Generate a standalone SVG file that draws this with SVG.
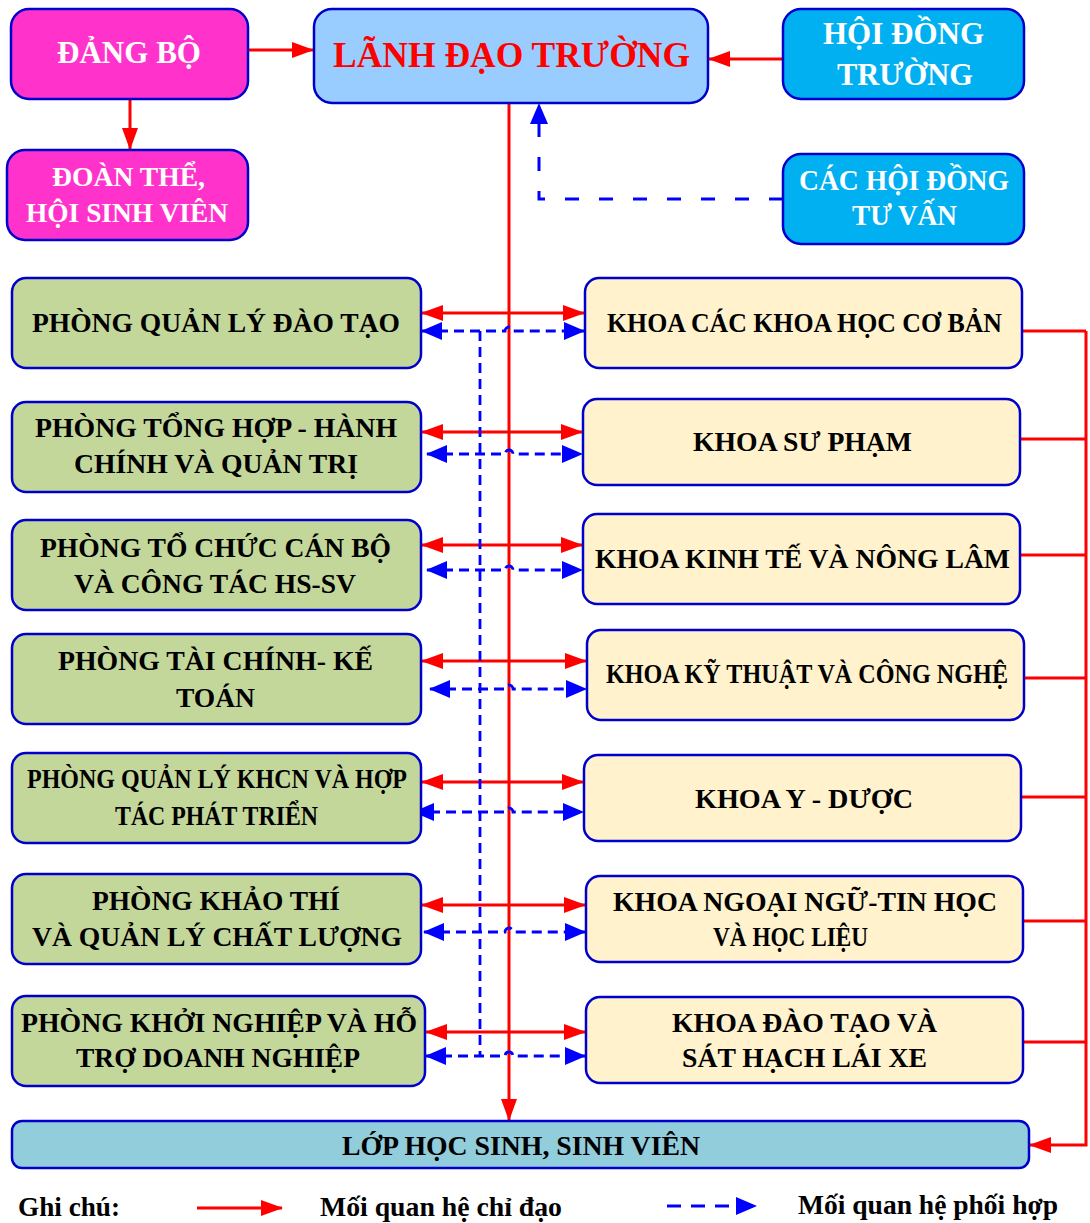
<svg xmlns="http://www.w3.org/2000/svg" width="1090" height="1223" viewBox="0 0 1090 1223">
<style>
.box{stroke:#0000CC;stroke-width:2.5}
.pink{fill:#FF33CC}
.lead{fill:#99CCFF}
.cyan{fill:#00B0F0}
.green{fill:#C4D79B}
.cream{fill:#FFF2CC}
.cls{fill:#92CDDC}
text{font-family:"Liberation Serif","Times New Roman",serif;font-weight:bold}
.t{font-size:27px;fill:#000}
.w{fill:#fff}
.red{stroke:#FF0000;stroke-width:3;fill:none}
.blue{stroke:#0000FF;stroke-width:2.8;fill:none;stroke-dasharray:10 6}
.blue2{stroke:#0000FF;stroke-width:3;fill:none;stroke-dasharray:14 20}
</style>
<defs>
<marker id="ra" markerUnits="userSpaceOnUse" markerWidth="22" markerHeight="18" refX="21" refY="8" orient="auto-start-reverse" viewBox="0 0 22 16">
<path d="M0,0 L22,8 L0,16 z" fill="#FF0000"/>
</marker>
<marker id="ba" markerUnits="userSpaceOnUse" markerWidth="21" markerHeight="18" refX="20" refY="9" orient="auto-start-reverse" viewBox="0 0 21 18">
<path d="M0,0 L21,9 L0,18 z" fill="#0000FF"/>
</marker>
</defs>

<g id="connectors">
<line class="red" x1="248" y1="50" x2="313" y2="50" marker-end="url(#ra)"/>
<line class="red" x1="130" y1="99" x2="130" y2="149" marker-end="url(#ra)"/>
<line class="red" x1="783" y1="59" x2="709" y2="59" marker-end="url(#ra)"/>
<path class="blue2" d="M783,199 H539 V104" marker-end="url(#ba)"/>
<line class="red" x1="509" y1="103" x2="509" y2="1120" marker-end="url(#ra)"/>
<line class="red" x1="422" y1="313" x2="584" y2="313" marker-start="url(#ra)" marker-end="url(#ra)"/>
<line class="red" x1="422" y1="432" x2="582" y2="432" marker-start="url(#ra)" marker-end="url(#ra)"/>
<line class="red" x1="422" y1="545" x2="582" y2="545" marker-start="url(#ra)" marker-end="url(#ra)"/>
<line class="red" x1="422" y1="661" x2="586" y2="661" marker-start="url(#ra)" marker-end="url(#ra)"/>
<line class="red" x1="422" y1="782" x2="583" y2="782" marker-start="url(#ra)" marker-end="url(#ra)"/>
<line class="red" x1="422" y1="905" x2="585" y2="905" marker-start="url(#ra)" marker-end="url(#ra)"/>
<line class="red" x1="426" y1="1032" x2="585" y2="1032" marker-start="url(#ra)" marker-end="url(#ra)"/>
<path class="blue" d="M422,331 H505 a4,4 0 0 1 8,0 H584" marker-start="url(#ba)" marker-end="url(#ba)"/>
<path class="blue" d="M427,454 H505 a4,4 0 0 1 8,0 H582" marker-start="url(#ba)" marker-end="url(#ba)"/>
<path class="blue" d="M427,570 H505 a4,4 0 0 1 8,0 H582" marker-start="url(#ba)" marker-end="url(#ba)"/>
<path class="blue" d="M430,689 H505 a4,4 0 0 1 8,0 H586" marker-start="url(#ba)" marker-end="url(#ba)"/>
<path class="blue" d="M414,812 H505 a4,4 0 0 1 8,0 H583" marker-start="url(#ba)" marker-end="url(#ba)"/>
<path class="blue" d="M424,932 H505 a4,4 0 0 1 8,0 H585" marker-start="url(#ba)" marker-end="url(#ba)"/>
<path class="blue" d="M426,1056 H505 a4,4 0 0 1 8,0 H585" marker-start="url(#ba)" marker-end="url(#ba)"/>
<line class="blue" x1="480" y1="331" x2="480" y2="1056"/>
<path class="red" d="M1022,331 H1086 M1020,439 H1086 M1020,555 H1086 M1024,678 H1086 M1021,797 H1086 M1023,921 H1086 M1023,1042 H1086"/>
<path class="red" d="M1086,331 V1145 H1030" marker-end="url(#ra)"/>
</g>

<g id="dang-bo"><rect class="box pink" x="11" y="9" width="237" height="90" rx="18"/>
<text class="w" x="57" y="63" font-size="31" textLength="144" lengthAdjust="spacingAndGlyphs">ĐẢNG BỘ</text></g>
<g id="doan-the"><rect class="box pink" x="7" y="150" width="241" height="90" rx="18"/>
<text class="w" x="52" y="186" font-size="28" textLength="153" lengthAdjust="spacingAndGlyphs">ĐOÀN THỂ,</text>
<text class="w" x="26" y="222" font-size="28" textLength="202" lengthAdjust="spacingAndGlyphs">HỘI SINH VIÊN</text></g>
<g id="lanh-dao"><rect class="box lead" x="314" y="9" width="394" height="94" rx="18"/>
<text x="333" y="67" font-size="36" fill="#FF0000" textLength="357" lengthAdjust="spacingAndGlyphs">LÃNH ĐẠO TRƯỜNG</text></g>
<g id="hoi-dong-truong"><rect class="box cyan" x="783" y="9" width="241" height="90" rx="18"/>
<text class="w" x="823" y="44" font-size="31" textLength="161" lengthAdjust="spacingAndGlyphs">HỘI ĐỒNG</text>
<text class="w" x="837" y="85" font-size="31" textLength="136" lengthAdjust="spacingAndGlyphs">TRƯỜNG</text></g>
<g id="hoi-dong-tu-van"><rect class="box cyan" x="783" y="154" width="241" height="90" rx="18"/>
<text class="w" x="799" y="190" font-size="29" textLength="210" lengthAdjust="spacingAndGlyphs">CÁC HỘI ĐỒNG</text>
<text class="w" x="852" y="225" font-size="29" textLength="105" lengthAdjust="spacingAndGlyphs">TƯ VẤN</text></g>

<g id="p-daotao"><rect class="box green" x="12" y="278" width="409" height="90" rx="14"/>
<text class="t" x="32" y="332" textLength="368" lengthAdjust="spacingAndGlyphs">PHÒNG QUẢN LÝ ĐÀO TẠO</text></g>
<g id="p-tonghop"><rect class="box green" x="12" y="402" width="409" height="90" rx="14"/>
<text class="t" x="35" y="437" textLength="362" lengthAdjust="spacingAndGlyphs">PHÒNG TỔNG HỢP - HÀNH</text>
<text class="t" x="74" y="473" textLength="284" lengthAdjust="spacingAndGlyphs">CHÍNH VÀ QUẢN TRỊ</text></g>
<g id="p-tochuc"><rect class="box green" x="12" y="520" width="409" height="90" rx="14"/>
<text class="t" x="40" y="557" textLength="351" lengthAdjust="spacingAndGlyphs">PHÒNG TỔ CHỨC CÁN BỘ</text>
<text class="t" x="74" y="593" textLength="282" lengthAdjust="spacingAndGlyphs">VÀ  CÔNG TÁC HS-SV</text></g>
<g id="p-taichinh"><rect class="box green" x="12" y="634" width="409" height="90" rx="14"/>
<text class="t" x="58" y="670" textLength="315" lengthAdjust="spacingAndGlyphs">PHÒNG TÀI CHÍNH- KẾ</text>
<text class="t" x="176" y="707" textLength="79" lengthAdjust="spacingAndGlyphs">TOÁN</text></g>
<g id="p-khcn"><rect class="box green" x="12" y="753" width="409" height="90" rx="14"/>
<text class="t" x="27" y="788" textLength="380" lengthAdjust="spacingAndGlyphs">PHÒNG QUẢN LÝ KHCN VÀ HỢP</text>
<text class="t" x="115" y="825" textLength="203" lengthAdjust="spacingAndGlyphs">TÁC PHÁT TRIỂN</text></g>
<g id="p-khaothi"><rect class="box green" x="12" y="874" width="409" height="90" rx="14"/>
<text class="t" x="92" y="910" textLength="248" lengthAdjust="spacingAndGlyphs">PHÒNG KHẢO THÍ</text>
<text class="t" x="32" y="946" textLength="370" lengthAdjust="spacingAndGlyphs">VÀ QUẢN LÝ CHẤT LƯỢNG</text></g>
<g id="p-khoinghiep"><rect class="box green" x="12" y="996" width="413" height="90" rx="14"/>
<text class="t" x="21" y="1032" textLength="396" lengthAdjust="spacingAndGlyphs">PHÒNG KHỞI NGHIỆP VÀ HỖ</text>
<text class="t" x="76" y="1067" textLength="284" lengthAdjust="spacingAndGlyphs">TRỢ DOANH NGHIỆP</text></g>

<g id="k-coban"><rect class="box cream" x="585" y="278" width="437" height="90" rx="14"/>
<text class="t" x="607" y="332" textLength="395" lengthAdjust="spacingAndGlyphs">KHOA CÁC KHOA HỌC CƠ BẢN</text></g>
<g id="k-supham"><rect class="box cream" x="583" y="399" width="437" height="86" rx="14"/>
<text class="t" x="693" y="451" textLength="219" lengthAdjust="spacingAndGlyphs">KHOA SƯ PHẠM</text></g>
<g id="k-kinhte"><rect class="box cream" x="583" y="514" width="437" height="90" rx="14"/>
<text class="t" x="595" y="568" textLength="415" lengthAdjust="spacingAndGlyphs">KHOA KINH TẾ VÀ NÔNG LÂM</text></g>
<g id="k-kythuat"><rect class="box cream" x="587" y="630" width="437" height="90" rx="14"/>
<text class="t" x="606" y="683" textLength="402" lengthAdjust="spacingAndGlyphs">KHOA KỸ THUẬT VÀ CÔNG NGHỆ</text></g>
<g id="k-yduoc"><rect class="box cream" x="584" y="755" width="437" height="86" rx="14"/>
<text class="t" x="695" y="808" textLength="218" lengthAdjust="spacingAndGlyphs">KHOA Y - DƯỢC</text></g>
<g id="k-ngoaingu"><rect class="box cream" x="586" y="876" width="437" height="86" rx="14"/>
<text class="t" x="613" y="911" textLength="384" lengthAdjust="spacingAndGlyphs">KHOA NGOẠI NGỮ-TIN HỌC</text>
<text class="t" x="713" y="946" textLength="155" lengthAdjust="spacingAndGlyphs">VÀ HỌC LIỆU</text></g>
<g id="k-laixe"><rect class="box cream" x="586" y="997" width="437" height="86" rx="14"/>
<text class="t" x="672" y="1032" textLength="265" lengthAdjust="spacingAndGlyphs">KHOA ĐÀO TẠO VÀ</text>
<text class="t" x="682" y="1067" textLength="245" lengthAdjust="spacingAndGlyphs">SÁT HẠCH LÁI XE</text></g>

<g id="lop"><rect class="box cls" x="12" y="1121" width="1017" height="47" rx="10"/>
<text class="t" x="342" y="1155" textLength="358" lengthAdjust="spacingAndGlyphs">LỚP HỌC SINH, SINH VIÊN</text></g>

<g id="legend">
<text class="t" x="18" y="1216" textLength="102" lengthAdjust="spacingAndGlyphs">Ghi chú:</text>
<line class="red" x1="197" y1="1208" x2="282" y2="1208" marker-end="url(#ra)"/>
<text class="t" x="320" y="1216" textLength="242" lengthAdjust="spacingAndGlyphs">Mối quan hệ chỉ đạo</text>
<line x1="667" y1="1206" x2="756" y2="1206" stroke="#0000FF" stroke-width="3" stroke-dasharray="14 10" marker-end="url(#ba)"/>
<text class="t" x="798" y="1214" textLength="260" lengthAdjust="spacingAndGlyphs">Mối quan hệ phối hợp</text>
</g>
</svg>
